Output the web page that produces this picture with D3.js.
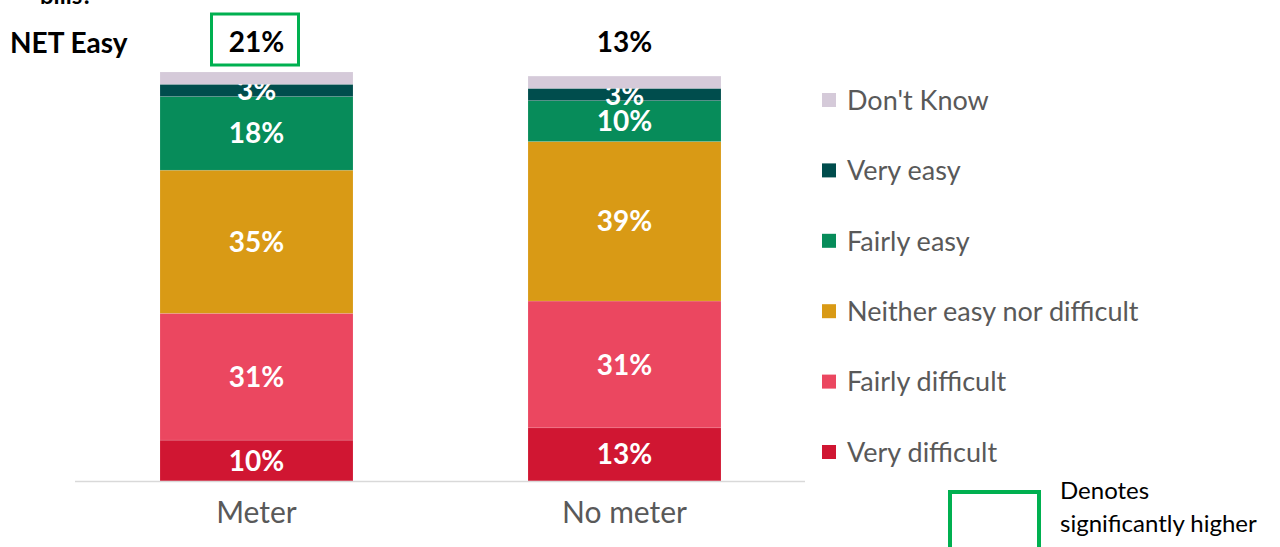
<!DOCTYPE html>
<html>
<head>
<meta charset="utf-8">
<script src="https://cdn.jsdelivr.net/npm/d3@7"></script>
<style>
  body { margin: 0; background: #fff; }
  svg { display: block; font-family: Lato, "Noto Sans", sans-serif; }
</style>
</head>
<body>
<script>
// data
var groups = ["Meter", "No meter"];
var series = ["Very difficult", "Fairly difficult", "Neither easy nor difficult", "Fairly easy", "Very easy", "Don't Know"];
var colors = ["#d01632", "#eb4760", "#d99a15", "#078c5a", "#004d4d", "#d5cad9"];
var meterValues = [10, 31, 35, 18, 3, 3];
var noMeterValues = [13, 31, 39, 10, 3, 3];
var netEasy = ["21%", "13%"];
var netHighlight = [true, false];

var values = [meterValues, noMeterValues];

var width = 1280, height = 547;

var svg = d3.select("body").append("svg")
    .attr("width", width)
    .attr("height", height);

// bar centres, bars ~193 wide
var x = d3.scalePoint().domain(groups).range([256.5, 624.5]);
var barW = 193;

var y = d3.scaleLinear().domain([0, 100]).range([481, 72]);

// stacked data
var stackRows = groups.map(function(g, i) {
  var row = { group: g };
  series.forEach(function(s, j) { row[s] = values[i][j]; });
  return row;
});
var stacked = d3.stack().keys(series)(stackRows);

// cut-off question text at top
svg.append("text")
    .attr("x", 40).attr("y", 4)
    .attr("font-size", 24).attr("font-weight", "bold")
    .attr("fill", "#000")
    .text("bills?");

var layer = svg.selectAll(".layer")
  .data(stacked)
  .enter().append("g")
    .attr("class", "layer")
    .attr("fill", function(d, i) { return colors[i]; });

layer.selectAll("rect")
  .data(function(d) { return d; })
  .enter().append("rect")
    .attr("x", function(d) { return x(d.data.group) - barW / 2; })
    .attr("y", function(d) { return y(d[1]); })
    .attr("width", barW)
    .attr("height", function(d) { return y(d[0]) - y(d[1]); })
    .attr("stroke", "#fff")
    .attr("stroke-opacity", 0.25)
    .attr("stroke-width", 0.5);

// value labels (not for Don't Know)
layer.filter(function(d, i) { return i < 5; })
  .selectAll("text")
  .data(function(d) { return d; })
  .enter().append("text")
    .attr("x", function(d) { return x(d.data.group); })
    .attr("y", function(d) { return (y(d[0]) + y(d[1])) / 2; })
    .attr("dy", "0.36em")
    .attr("text-anchor", "middle")
    .attr("font-size", 28)
    .attr("font-weight", "bold")
    .attr("fill", "#fff")
    .text(function(d) { return (d[1] - d[0]) + "%"; });

// axis baseline
svg.append("line")
    .attr("x1", 75).attr("x2", 805)
    .attr("y1", y(0) + 0.5).attr("y2", y(0) + 0.5)
    .attr("stroke", "#d9d9d9").attr("stroke-width", 1.5);

// category labels
svg.selectAll(".cat")
  .data(groups)
  .enter().append("text")
    .attr("class", "cat")
    .attr("x", function(d) { return x(d); })
    .attr("y", 523)
    .attr("text-anchor", "middle")
    .attr("font-size", 30)
    .attr("fill", "#595959")
    .text(function(d) { return d; });

// NET Easy row
svg.append("text")
    .attr("x", 10).attr("y", 53)
    .attr("font-size", 28).attr("font-weight", "bold")
    .attr("fill", "#000")
    .text("NET Easy");

svg.selectAll(".net")
  .data(netEasy)
  .enter().append("text")
    .attr("class", "net")
    .attr("x", function(d, i) { return x(groups[i]); })
    .attr("y", 52)
    .attr("text-anchor", "middle")
    .attr("font-size", 28).attr("font-weight", "bold")
    .attr("fill", "#000")
    .text(function(d) { return d; });

svg.selectAll(".netbox")
  .data(netEasy.filter(function(d, i) { return netHighlight[i]; }))
  .enter().append("rect")
    .attr("x", function(d) { return x(groups[netEasy.indexOf(d)]) - 45; })
    .attr("y", 14)
    .attr("width", 87).attr("height", 51)
    .attr("fill", "none")
    .attr("stroke", "#00b050").attr("stroke-width", 3);

// legend (top to bottom reversed)
var legendItems = series.slice().reverse();
var legendColors = colors.slice().reverse();
var leg = svg.selectAll(".leg")
  .data(legendItems)
  .enter().append("g")
    .attr("class", "leg")
    .attr("transform", function(d, i) { return "translate(822," + (100 + i * 70.4) + ")"; });

leg.append("rect")
    .attr("x", 0).attr("y", -7)
    .attr("width", 14).attr("height", 14)
    .attr("fill", function(d, i) { return legendColors[i]; });

leg.append("text")
    .attr("x", 25).attr("y", 0)
    .attr("dy", "0.36em")
    .attr("font-size", 27)
    .attr("fill", "#595959")
    .text(function(d) { return d; });

// significance key
svg.append("rect")
    .attr("x", 950).attr("y", 492)
    .attr("width", 89).attr("height", 60)
    .attr("fill", "none")
    .attr("stroke", "#00b050").attr("stroke-width", 4);

svg.append("text")
    .attr("x", 1060).attr("y", 499)
    .attr("font-size", 24).attr("fill", "#000")
    .text("Denotes");
svg.append("text")
    .attr("x", 1060).attr("y", 532)
    .attr("font-size", 24).attr("fill", "#000")
    .text("significantly higher");
</script>
</body>
</html>
